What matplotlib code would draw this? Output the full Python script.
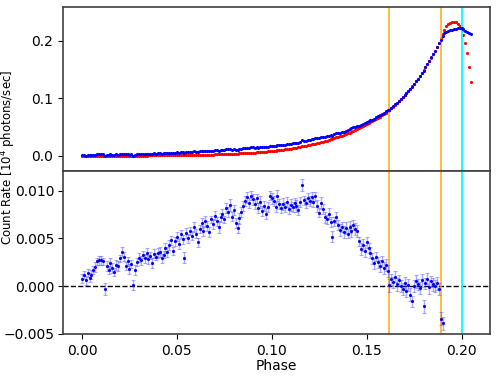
import numpy as np
import matplotlib
matplotlib.use("Agg")
import matplotlib.pyplot as plt

# phase bins (width 0.001)
phase = np.arange(206) * 0.001

# model light curve (red), units of 1e-4 (10^4 photons/sec)
model = [1, 1, 1, 1, 1, 2, 2, 2, 2, 2,
         2, 3, 3, 3, 3, 3, 3, 4, 4, 4,
         4, 4, 5, 5, 5, 5, 6, 6, 6, 7,
         7, 7, 8, 8, 8, 9, 9, 9, 10, 10,
         10, 11, 11, 12, 12, 12, 12, 12, 12, 12,
         12, 12.5, 13.0, 13.5, 14.0, 14.6, 15.2, 15.8, 16.4, 17.1,
         17.8, 18.5, 19.2, 20.0, 20.8, 21.6, 22.5, 23.4, 24.3, 25.3,
         26.3, 27.3, 28.4, 29.6, 30.8, 32.0, 33.3, 34.6, 36.0, 37.4,
         40.0, 41.5, 43.1, 44.7, 46.4, 48.2, 50.0, 51.9, 53.9, 55.9,
         58.0, 60.2, 62.5, 64.9, 67.4, 69.9, 72.6, 75.3, 78.2, 81.2,
         85.0, 88.7, 92.5, 96.4, 100.6, 104.9, 109.4, 114.1, 119.0, 124.2,
         129.5, 135.1, 140.9, 146.9, 153.3, 160.0, 166.0, 172.2, 178.7, 185.4,
         192.3, 199.5, 207.0, 214.8, 222.8, 231.2, 239.9, 248.8, 258.2, 267.9,
         277.9, 288.3, 300.0, 310.2, 320.7, 331.6, 342.9, 354.6, 366.6, 379.1,
         392.0, 405.3, 419.1, 433.3, 448.1, 463.3, 479.1, 495.4, 512.2, 529.6,
         547.6, 565.1, 583.2, 601.9, 621.1, 641.0, 661.5, 682.7, 704.5, 727.0,
         750.3, 774.3, 800, 828, 857, 887, 918, 950, 983, 1018,
         1053, 1090, 1128, 1168, 1209, 1251, 1295, 1340, 1387, 1436,
         1486, 1538, 1592, 1648, 1705, 1765, 1827, 1890, 1960, 2040,
         2120, 2190, 2245, 2285, 2310, 2325, 2330, 2320, 2290, 2245,
         2180, 2097, 1953, 1780, 1548, 1277]

# residual (data - model), units of 1e-4, phase 0.000 .. 0.190
resid = [8, 12, 6, 14, 9, 12, 17, 20, 26, 27,
         27, 26, -3, 21, 17, 24, 19, 15, 22, 21,
         29, 36, 31, 21, 26, 18, 23, 1, 17, 25,
         30, 27, 33, 29, 35, 28, 32, 24, 34, 31,
         35, 36, 29, 33, 40, 36, 43, 48, 37, 47,
         52, 44, 55, 49, 30, 56, 50, 58, 53, 62,
         55, 46, 60, 66, 58, 68, 63, 57, 70, 65,
         74, 68, 62, 72, 76, 70, 82, 78, 85, 73,
         80, 66, 61, 71, 78, 84, 89, 93, 87, 95,
         91, 86, 92, 82, 88, 79, 84, 76, 83, 95,
         92, 89, 83, 95, 86, 82, 86, 83, 88, 81,
         85, 83, 87, 84, 80, 88, 106, 90, 87, 92,
         89, 93, 88, 94, 84, 77, 87, 81, 72, 70,
         76, 67, 52, 68, 72, 64, 59, 62, 57, 61,
         55, 62, 58, 64, 60, 58, 47, 39, 43, 37,
         46, 40, 35, 29, 24, 31, 25, 21, 26, 19,
         22, 16, 1, 7, 4, 10, 2, 6, 0, -3,
         3, -5, 1, -9, -16, 0, 5, 2, -2, 6,
         -21, 3, 8, -1, 5, 2, 0, 3, -3, -34,
         -39]

# residual 1-sigma errors, units of 1e-4
resid_err = [5, 4, 5, 4, 5, 5, 4, 5, 4, 5,
             5, 4, 6, 5, 4, 5, 5, 4, 5, 5,
             4, 5, 5, 4, 5, 5, 4, 5, 5, 4,
             5, 5, 4, 5, 5, 5, 4, 5, 5, 4,
             5, 5, 5, 4, 5, 5, 5, 5, 4, 5,
             5, 5, 4, 5, 6, 5, 5, 4, 5, 5,
             5, 5, 4, 5, 5, 6, 5, 5, 4, 5,
             5, 5, 6, 5, 5, 4, 5, 5, 6, 5,
             5, 5, 5, 6, 5, 5, 5, 6, 5, 5,
             6, 5, 5, 5, 6, 5, 5, 6, 5, 5,
             6, 5, 5, 6, 5, 5, 6, 5, 5, 5,
             6, 5, 5, 6, 5, 5, 6, 5, 5, 6,
             5, 6, 5, 5, 6, 5, 6, 5, 6, 5,
             6, 5, 6, 5, 6, 5, 6, 5, 6, 6,
             5, 6, 6, 5, 6, 6, 5, 6, 6, 6,
             6, 5, 6, 6, 6, 5, 6, 6, 6, 6,
             6, 6, 7, 6, 6, 6, 7, 6, 6, 6,
             7, 6, 6, 7, 6, 6, 7, 6, 6, 7,
             7, 6, 6, 7, 6, 7, 6, 7, 6, 7,
             7]

# observed points after the residual panel ends (phase 0.191 .. 0.205), units of 1e-4
data_tail = [2125, 2150, 2170, 2182, 2192, 2200, 2207, 2212, 2213, 2210,
             2195, 2172, 2150, 2135, 2114]

orange_lines = [0.162, 0.189]
cyan_line = 0.200

model = np.array(model) * 1e-4
resid = np.array(resid) * 1e-4
resid_err = np.array(resid_err) * 1e-4
n_res = len(resid)
data = np.concatenate([model[:n_res] + resid, np.array(data_tail) * 1e-4])

fig = plt.figure(figsize=(5.01, 3.76), dpi=100)
ax1 = fig.add_axes([0.125, 0.546, 0.853, 0.435])
ax2 = fig.add_axes([0.125, 0.112, 0.853, 0.434], sharex=ax1)

# top panel: data vs model
ax1.plot(phase, model, '.', color='red', ms=2.5, zorder=2)
ax1.plot(phase, data, '.', color='blue', ms=2.5, zorder=3)
for x in orange_lines:
    ax1.axvline(x, color='orange', lw=1.3, alpha=0.8)
ax1.axvline(cyan_line, color='cyan', lw=1.3)
ax1.set_ylim(-0.0255, 0.258)
ax1.set_yticks([0.0, 0.1, 0.2])
ax1.tick_params(labelbottom=False, bottom=False)

# bottom panel: residuals
ax2.errorbar(phase[:n_res], resid, yerr=resid_err, fmt='.', color='blue', ms=2.5,
             ecolor=(0.3, 0.3, 1.0, 0.45), elinewidth=1, capsize=1.2,
             capthick=0.8, zorder=3)
ax2.axhline(0, color='black', ls='--', lw=1)
for x in orange_lines:
    ax2.axvline(x, color='orange', lw=1.3, alpha=0.8)
ax2.axvline(cyan_line, color='cyan', lw=1.3)
ax2.set_ylim(-0.005, 0.0121)
ax2.set_yticks([-0.005, 0.0, 0.005, 0.010])
ax2.tick_params(axis='y', pad=2)
ax2.set_xlim(-0.0102, 0.215)
ax2.set_xticks([0.0, 0.05, 0.10, 0.15, 0.20])
ax2.set_xlabel('Phase', labelpad=1)

for ax in (ax1, ax2):
    for s in ax.spines.values():
        s.set_color('0.25')
        s.set_linewidth(1.2)

fig.text(0.0172, 0.582, 'Count Rate [10$^4$ photons/sec]', rotation=90,
         va='center', ha='center', fontsize=8.5)

fig.savefig('out.png', dpi=100)
